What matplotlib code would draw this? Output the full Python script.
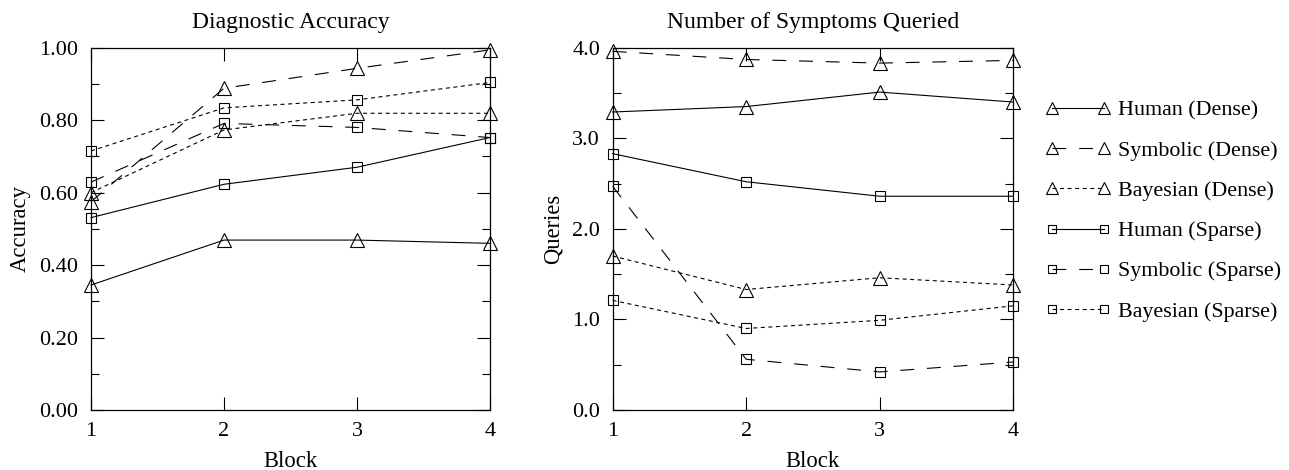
import matplotlib
matplotlib.use("Agg")
import matplotlib.pyplot as plt
from matplotlib.ticker import MultipleLocator, FormatStrFormatter

plt.rcParams['font.family'] = ['Liberation Serif', 'DejaVu Serif']

blocks = [1, 2, 3, 4]
labels = ["Human (Dense)", "Symbolic (Dense)", "Bayesian (Dense)",
          "Human (Sparse)", "Symbolic (Sparse)", "Bayesian (Sparse)"]

acc_human_dense = [0.345, 0.469, 0.469, 0.460]
acc_symbolic_dense = [0.575, 0.888, 0.943, 0.994]
acc_bayesian_dense = [0.600, 0.773, 0.819, 0.819]
acc_human_sparse = [0.531, 0.623, 0.670, 0.752]
acc_symbolic_sparse = [0.629, 0.791, 0.780, 0.752]
acc_bayesian_sparse = [0.715, 0.834, 0.856, 0.904]

q_human_dense = [3.29, 3.35, 3.51, 3.40]
q_symbolic_dense = [3.96, 3.87, 3.83, 3.86]
q_bayesian_dense = [1.70, 1.33, 1.46, 1.38]
q_human_sparse = [2.83, 2.52, 2.36, 2.36]
q_symbolic_sparse = [2.47, 0.56, 0.42, 0.53]
q_bayesian_sparse = [1.21, 0.90, 0.99, 1.15]

acc_series = [acc_human_dense, acc_symbolic_dense, acc_bayesian_dense,
              acc_human_sparse, acc_symbolic_sparse, acc_bayesian_sparse]
q_series = [q_human_dense, q_symbolic_dense, q_bayesian_dense,
            q_human_sparse, q_symbolic_sparse, q_bayesian_sparse]

DASH = (0, (12.5, 11.5))
DOT = (0, (3.6, 3.2))
styles = [
    dict(ls='-', marker='^', ms=10.5),
    dict(ls=DASH, marker='^', ms=10.5),
    dict(ls=DOT, marker='^', ms=10.5),
    dict(ls='-', marker='s', ms=7.5),
    dict(ls=DASH, marker='s', ms=7.5),
    dict(ls=DOT, marker='s', ms=7.5),
]

fig = plt.figure(figsize=(12.89, 4.70), dpi=100)
ax1 = fig.add_axes([0.0706, 0.1277, 0.3095, 0.7708])
ax2 = fig.add_axes([0.4753, 0.1277, 0.3107, 0.7708])

TICK_FS = 16
LAB_FS = 16.3
TITLE_FS = 17
LEG_FS = 15.8

def setup(ax, title, ylabel, ymax, major, fmt):
    ax.set_xlim(1, 4)
    ax.set_ylim(0, ymax)
    ax.set_xticks(blocks)
    ax.yaxis.set_major_locator(MultipleLocator(major))
    ax.yaxis.set_minor_locator(MultipleLocator(major / 2))
    ax.yaxis.set_major_formatter(FormatStrFormatter(fmt))
    ax.tick_params(which='major', direction='in', length=9.5, width=0.8,
                   top=True, right=True, labelsize=TICK_FS)
    ax.tick_params(which='minor', direction='in', length=5.5, width=0.8,
                   top=True, right=True)
    ax.tick_params(axis='y', which='major', pad=9)
    ax.tick_params(axis='x', which='major', pad=9)
    ax.set_title(title, fontsize=TITLE_FS, pad=14)
    ax.set_xlabel("Block", fontsize=LAB_FS, labelpad=7)
    ax.set_ylabel(ylabel, fontsize=LAB_FS, labelpad=6)
    for s in ax.spines.values():
        s.set_linewidth(0.9)

handles = []
for ax, series in ((ax1, acc_series), (ax2, q_series)):
    for vals, st, lab in zip(series, styles, labels):
        h, = ax.plot(blocks, vals, color='black', lw=0.8, linestyle=st['ls'],
                     marker=st['marker'], ms=st['ms'], mfc='none', mec='black',
                     mew=0.8, label=lab, clip_on=False)
        if ax is ax2:
            handles.append(h)

setup(ax1, "Diagnostic Accuracy", "Accuracy", 1.0, 0.2, '%.2f')
setup(ax2, "Number of Symptoms Queried", "Queries", 4.0, 1.0, '%.1f')

fig.legend(handles=handles, labels=labels, loc='upper left',
           bbox_to_anchor=(0.796, 0.828), frameon=False, fontsize=LEG_FS,
           numpoints=2, handlelength=2.93, handletextpad=0.34,
           labelspacing=0.9, markerscale=0.85)

fig.savefig("out.png", dpi=100)
